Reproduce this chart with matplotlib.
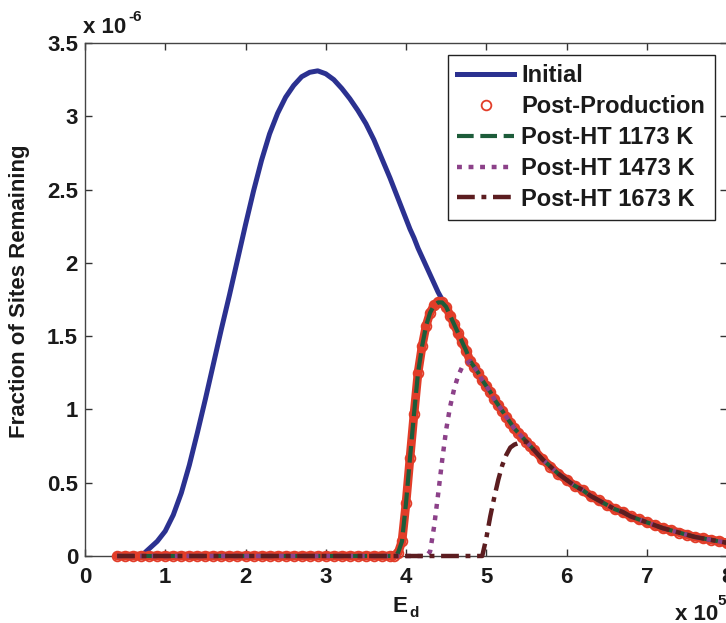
import numpy as np
import matplotlib.pyplot as plt

plt.rcParams['font.family'] = ['Liberation Sans', 'DejaVu Sans']
plt.rcParams['font.weight'] = 'bold'

# E_d sample positions (x 10^5), finer around the steep rises
ed = [0.4, 0.5, 0.6, 0.7, 0.8, 0.9, 1.0, 1.1, 1.2, 1.3, 1.4, 1.5, 1.6, 1.7,
      1.8, 1.9, 2.0, 2.1, 2.2, 2.3, 2.4, 2.5, 2.6, 2.7, 2.8, 2.9, 3.0, 3.1,
      3.2, 3.3, 3.4, 3.5, 3.6, 3.7, 3.8,
      3.85, 3.9, 3.95, 4.0, 4.05, 4.1, 4.15, 4.2, 4.25, 4.3, 4.35, 4.4, 4.45,
      4.5, 4.55, 4.6, 4.65, 4.7, 4.75, 4.8, 4.85, 4.9, 4.95, 5.0, 5.05, 5.1,
      5.15, 5.2, 5.25, 5.3, 5.35, 5.4, 5.45, 5.5, 5.55, 5.6,
      5.7, 5.8, 5.9, 6.0, 6.1, 6.2, 6.3, 6.4, 6.5, 6.6, 6.7, 6.8, 6.9, 7.0,
      7.1, 7.2, 7.3, 7.4, 7.5, 7.6, 7.7, 7.8, 7.9, 8.0]

# fraction of sites remaining (x 10^-6), initial distribution
initial = [0.0, 0.0, 0.0, 0.0, 0.05, 0.10, 0.17, 0.28, 0.43, 0.62, 0.84, 1.07,
           1.31, 1.55, 1.78, 2.02, 2.26, 2.49, 2.70, 2.88, 3.02, 3.13, 3.21,
           3.27, 3.30, 3.31, 3.29, 3.25, 3.19, 3.12, 3.04, 2.95, 2.84, 2.71,
           2.58,
           2.51, 2.44, 2.37, 2.30, 2.23, 2.17, 2.10, 2.04, 1.98, 1.92, 1.86,
           1.80, 1.75, 1.70, 1.64, 1.58, 1.52, 1.46, 1.40, 1.33, 1.29, 1.25,
           1.20, 1.16, 1.12, 1.07, 1.03, 0.99, 0.95, 0.91, 0.87, 0.84, 0.81,
           0.78, 0.75, 0.72,
           0.66, 0.61, 0.56, 0.52, 0.48, 0.45, 0.41, 0.38, 0.35, 0.32, 0.30,
           0.27, 0.25, 0.23, 0.21, 0.19, 0.175, 0.16, 0.145, 0.13, 0.12, 0.11,
           0.10, 0.09]

# rising edges of the annealed curves; after the rise they follow the initial curve
rise_prod = [0.0, 0.02, 0.10, 0.36, 0.67, 0.97, 1.25, 1.43, 1.57, 1.66, 1.71,
             1.73, 1.73]                      # E_d = 3.85 .. 4.45
rise_1473 = [0.03, 0.20, 0.42, 0.65, 0.86, 1.02, 1.14, 1.23, 1.29, 1.31]
                                              # E_d = 4.3 .. 4.75
rise_1673 = [0.12, 0.27, 0.40, 0.52, 0.62, 0.69, 0.74, 0.76, 0.77, 0.78]
                                              # E_d = 5.0 .. 5.45


def build(rise, start):
    i0 = ed.index(start)
    return [0.0] * i0 + rise + initial[i0 + len(rise):]


post_production = build(rise_prod, 3.85)
post_1173 = build(rise_prod, 3.85)
post_1473 = build(rise_1473, 4.3)
post_1673 = build(rise_1673, 5.0)

xticks = [0, 1, 2, 3, 4, 5, 6, 7, 8]
yticks = [0, 0.5, 1, 1.5, 2, 2.5, 3, 3.5]
ytick_labels = ['0', '0.5', '1', '1.5', '2', '2.5', '3', '3.5']

W, H = 726, 623
fig = plt.figure(figsize=(W / 100, H / 100), dpi=100)
ax = fig.add_axes([85 / W, (H - 556) / H, (727 - 85) / W, (556 - 43) / H])

c_init = '#2b3190'
c_red = '#e23d29'
c_green = '#1d5c3a'
c_purple = '#8c4189'
c_brown = '#5c1d20'

l1, = ax.plot(ed, initial, color=c_init, lw=3.6, label='Initial',
              zorder=3, clip_on=False, solid_joinstyle='round')
# dense open circles of the original merge into a solid band
ax.plot(ed, post_production, color=c_red, lw=6.3, zorder=3.1, clip_on=False,
        solid_capstyle='round')
l2, = ax.plot(ed, post_production, ls='none', marker='o', ms=7,
              mfc='none', mec=c_red, mew=1.3, label='Post-Production',
              zorder=3.2, clip_on=False)
l3, = ax.plot(ed, post_1173, color=c_green, lw=3, dashes=(4, 1.6),
              label='Post-HT 1173 K', zorder=3.3, clip_on=False)
l4, = ax.plot(ed, post_1473, color=c_purple, lw=3.2, dashes=(1.1, 1.5),
              label='Post-HT 1473 K', zorder=3.4, clip_on=False)
l5, = ax.plot(ed, post_1673, color=c_brown, lw=3.2, dashes=(4, 1.5, 1.1, 1.5),
              label='Post-HT 1673 K', zorder=3.5, clip_on=False)

ax.set_xlim(0, 8)
ax.set_ylim(0, 3.5)
ax.set_xticks(xticks)
ax.set_xticklabels([str(v) for v in xticks])
ax.set_yticks(yticks)
ax.set_yticklabels(ytick_labels)
ax.tick_params(direction='in', length=5, width=1, top=True, right=True,
               labelsize=16, colors='#333333', labelcolor='#1a1a1a')
ax.tick_params(axis='x', pad=8)
ax.tick_params(axis='y', pad=5)
for s in ax.spines.values():
    s.set_color('#444444')
    s.set_linewidth(1)

leg = ax.legend(handles=[l1, l2, l3, l4, l5], loc='upper left',
                bbox_to_anchor=(448 / W, 1 - 55 / H),
                bbox_transform=fig.transFigure, borderaxespad=0,
                fontsize=17, frameon=True, fancybox=False, framealpha=1,
                edgecolor='#222222', handlelength=2.4, handletextpad=0.3,
                labelspacing=0.33, borderpad=0.4)
leg.get_frame().set_linewidth(1)
for t in leg.get_texts():
    t.set_color('#1a1a1a')

tc = '#1a1a1a'
fig.text(20 / W, 1 - 291 / H, 'Fraction of Sites Remaining', rotation=90,
         ha='center', va='center', fontsize=16, color=tc)
fig.text(83 / W, 1 - 33 / H, 'x 10', fontsize=16, color=tc)
fig.text(128 / W, 1 - 21 / H, '-6', fontsize=11, color=tc)
fig.text(393 / W, 1 - 612 / H, 'E', fontsize=16, color=tc)
fig.text(409 / W, 1 - 617 / H, 'd', fontsize=11, color=tc)
fig.text(675 / W, 1 - 620 / H, 'x 10', fontsize=16, color=tc)
fig.text(717 / W, 1 - 605 / H, '5', fontsize=11, color=tc)

fig.savefig('out.png', dpi=100)
